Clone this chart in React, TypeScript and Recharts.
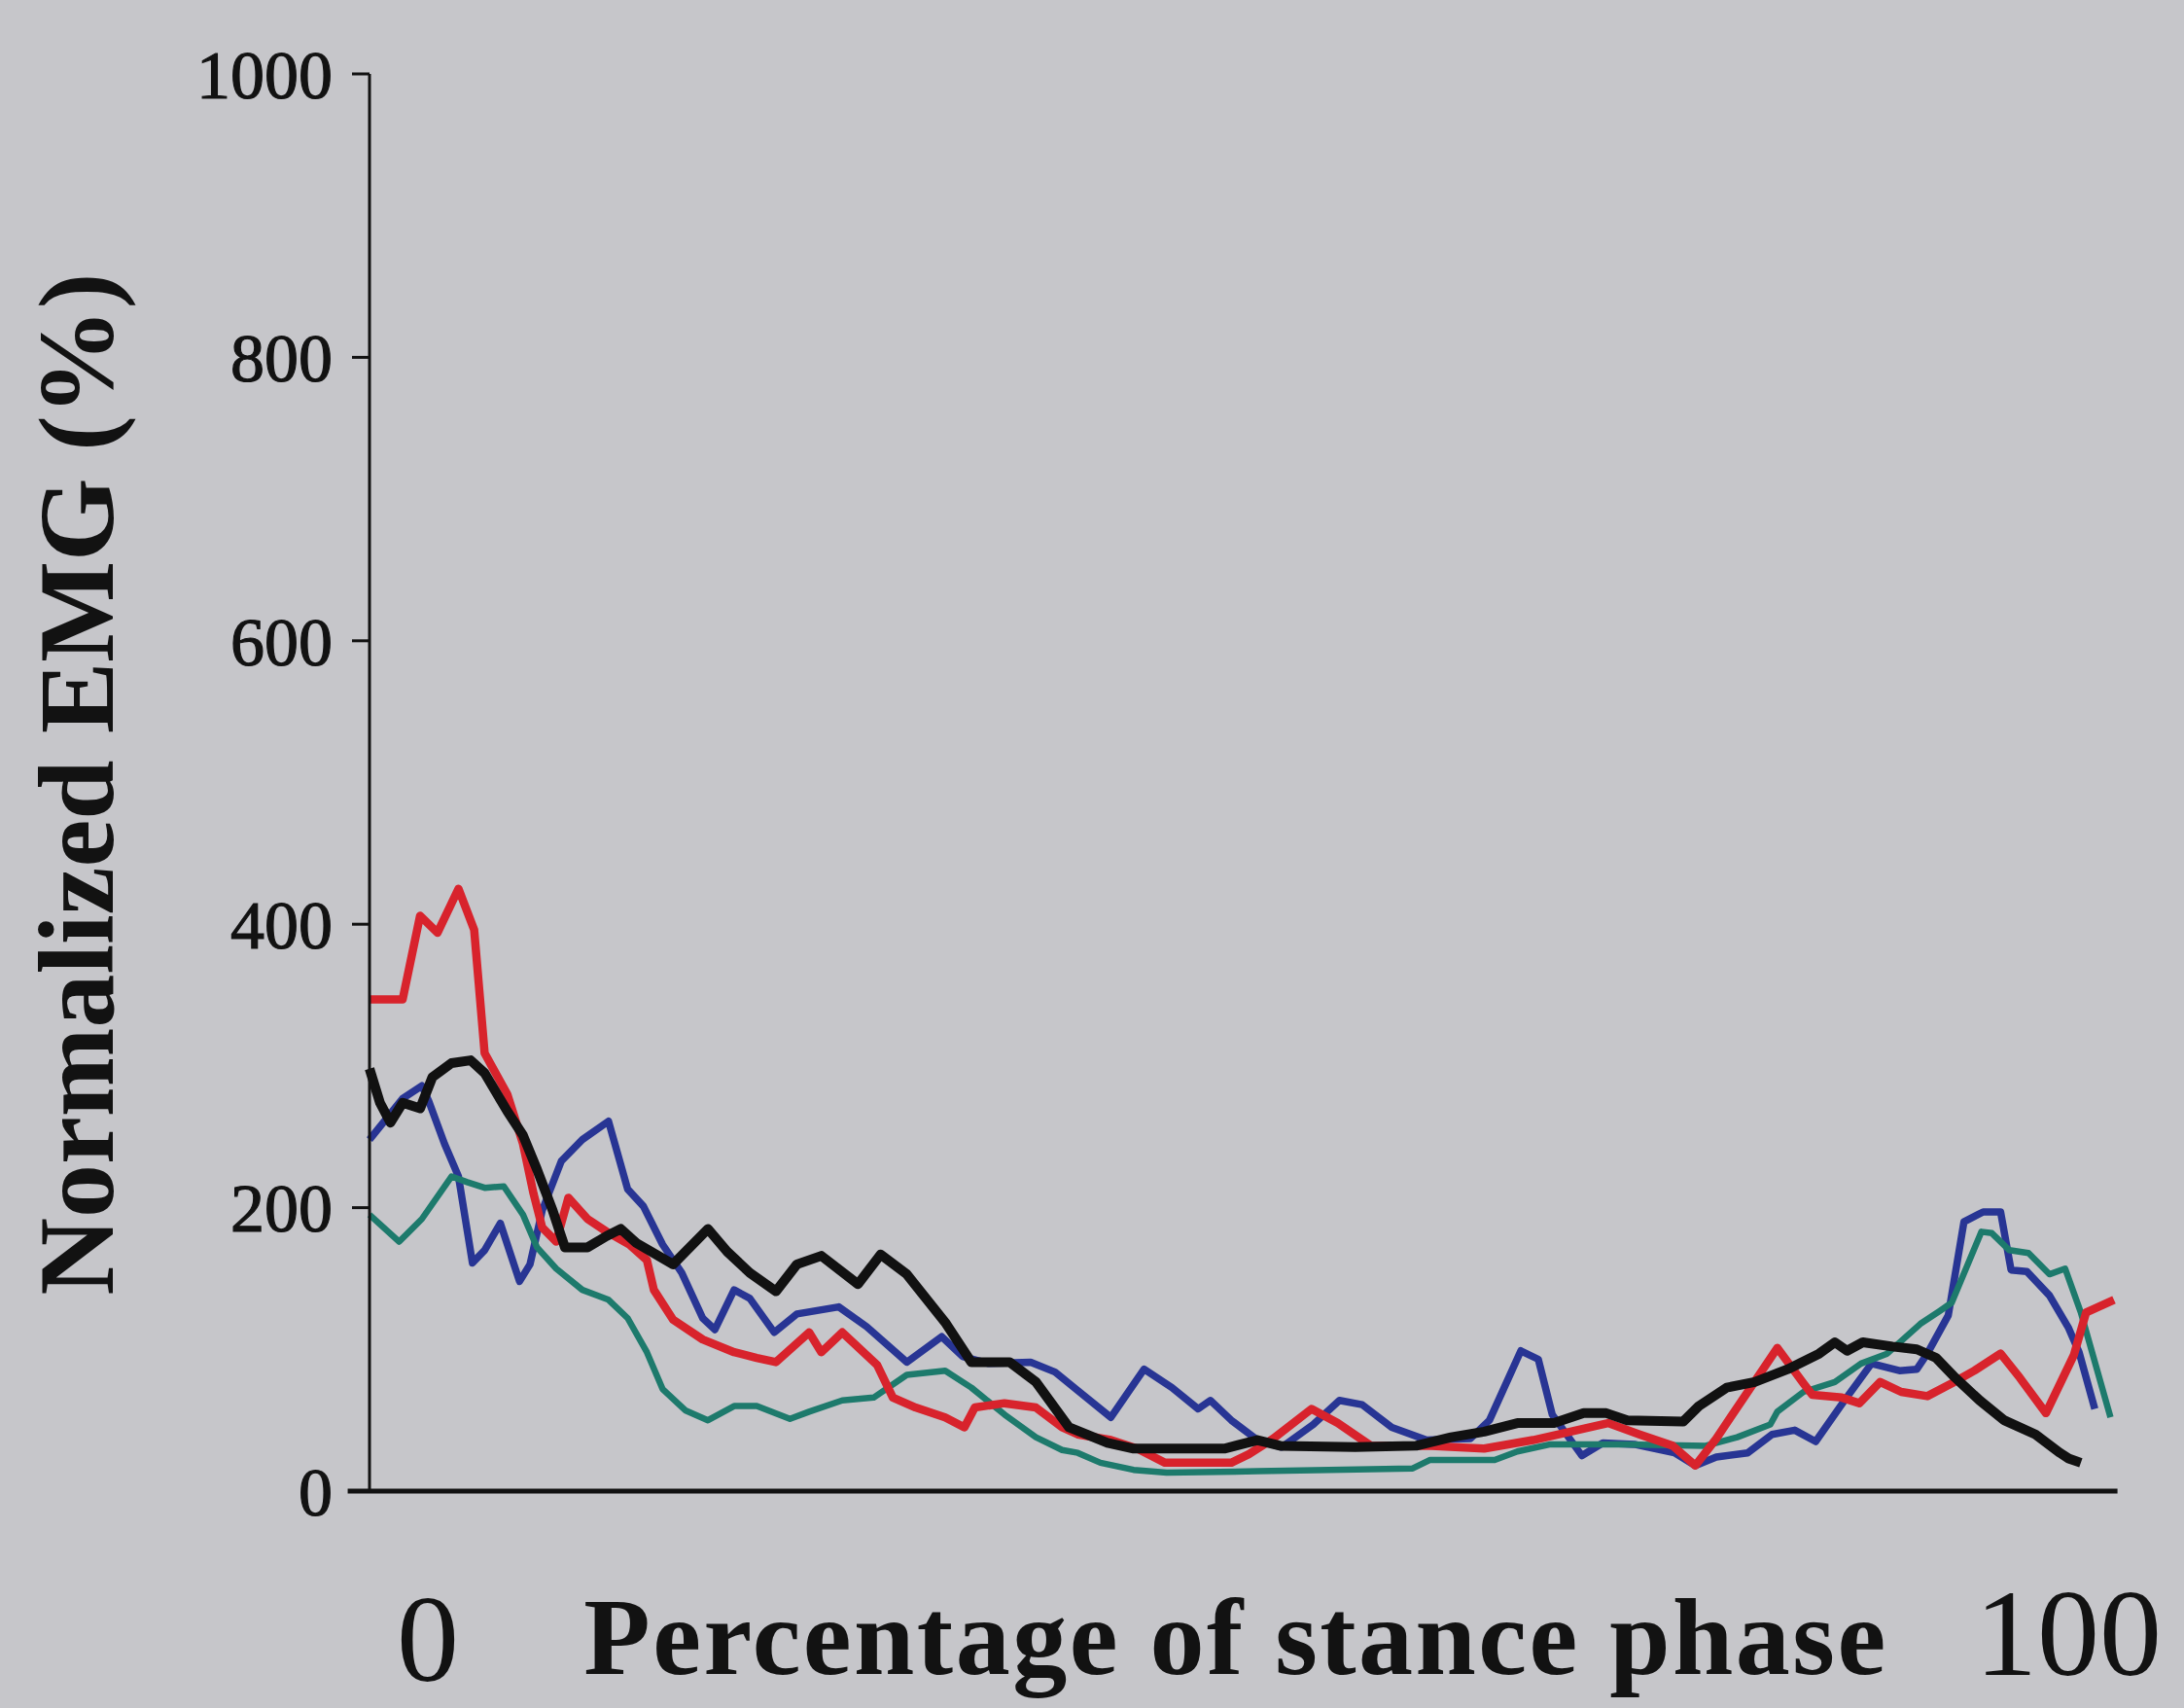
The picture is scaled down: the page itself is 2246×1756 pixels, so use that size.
import React from 'react';
import { LineChart, Line, XAxis, YAxis, ReferenceLine } from 'recharts';

const yTicks = [0, 200, 400, 600, 800, 1000];
const xStartLabel = '0';
const xEndLabel = '100';
const xTitle = 'Percentage of stance phase';
const yTitle = 'Normalized EMG (%)';

const redX = [0, 1.9, 2.9, 3.9, 5.1, 6.0, 6.6, 7.0, 7.9, 8.8, 9.4, 9.9, 10.7, 11.4, 12.5, 13.6, 14.9, 15.9, 16.3, 17.4, 19.1, 20.9, 22.2, 23.3, 25.2, 25.9, 27.1, 29.1, 30.0, 31.3, 33.0, 34.1, 34.7, 36.4, 38.2, 39.7, 40.6, 42.5, 44.0, 45.6, 49.4, 50.4, 51.8, 54.0, 55.5, 57.4, 60.6, 63.9, 66.7, 71.0, 72.8, 74.7, 76.0, 77.2, 79.0, 80.7, 82.2, 82.7, 84.4, 85.4, 86.6, 87.8, 89.3, 90.7, 92.0, 93.5, 94.6, 96.1, 97.7, 98.4, 100];
const redY = [347, 347, 406, 394, 425, 396, 309, 300, 280, 245, 210, 186, 176, 207, 192, 183, 174, 163, 142, 121, 107, 98, 94, 91, 112, 98, 112, 89, 66, 59, 52, 45, 59, 62, 59, 45, 40, 36, 30, 20, 20, 26, 37, 58, 48, 32, 32, 30, 36, 48, 40, 32, 18, 37, 70, 101, 76, 68, 66, 62, 77, 70, 67, 76, 85, 97, 80, 55, 96, 126, 135];

const blueX = [0, 1.9, 3.0, 3.4, 4.3, 5.1, 5.9, 6.6, 7.5, 8.6, 9.2, 9.9, 11.0, 12.2, 13.7, 14.8, 15.7, 16.8, 17.9, 19.1, 19.8, 20.9, 21.8, 23.2, 24.5, 26.9, 28.5, 30.8, 32.8, 34.0, 35.5, 37.9, 39.3, 40.6, 42.5, 44.4, 46.0, 47.5, 48.2, 49.4, 50.9, 52.3, 54.1, 55.6, 56.9, 58.6, 60.6, 63.1, 64.2, 66.0, 67.0, 67.8, 69.5, 70.7, 72.5, 74.8, 76.0, 77.2, 79.0, 80.4, 81.7, 82.9, 84.5, 86.1, 87.7, 88.7, 89.3, 90.5, 91.4, 92.5, 93.5, 94.1, 95.0, 96.3, 97.4, 98.0, 98.9];
const blueY = [248, 277, 286, 275, 245, 222, 161, 170, 189, 148, 160, 198, 233, 248, 261, 213, 201, 174, 154, 122, 114, 142, 136, 112, 125, 130, 116, 91, 109, 95, 90, 91, 84, 71, 52, 86, 73, 58, 64, 50, 36, 31, 47, 64, 61, 45, 36, 37, 50, 99, 93, 54, 25, 34, 33, 27, 18, 24, 27, 40, 43, 35, 63, 90, 85, 86, 97, 124, 190, 197, 197, 156, 155, 138, 115, 98, 58];

const tealX = [0, 1.7, 3.0, 4.7, 5.6, 6.6, 7.7, 8.8, 9.6, 10.7, 12.2, 13.7, 14.8, 15.9, 16.8, 18.1, 19.4, 20.9, 22.2, 24.1, 25.2, 27.1, 28.9, 30.8, 33.0, 34.5, 36.4, 38.2, 39.7, 40.6, 41.9, 43.8, 45.7, 50.9, 55.0, 59.8, 60.8, 64.5, 65.8, 67.7, 72.0, 76.6, 78.4, 80.3, 80.7, 82.2, 84.0, 85.5, 87.0, 88.9, 90.0, 90.7, 92.4, 93.0, 94.0, 95.1, 96.3, 97.2, 98.1, 99.8];
const tealY = [195, 176, 192, 222, 218, 214, 215, 195, 172, 157, 142, 135, 122, 98, 72, 57, 50, 60, 60, 51, 56, 64, 66, 82, 85, 73, 54, 38, 29, 27, 20, 15, 13, 14, 15, 16, 22, 22, 28, 33, 33, 32, 38, 47, 56, 70, 77, 90, 97, 118, 127, 133, 183, 182, 170, 168, 153, 157, 126, 52];

const blackX = [0, 0.6, 1.2, 1.9, 2.9, 3.6, 4.7, 5.8, 6.6, 7.9, 8.8, 9.6, 10.5, 11.2, 12.5, 13.6, 14.4, 15.3, 17.4, 19.4, 20.5, 21.8, 23.3, 24.5, 25.9, 28.0, 29.3, 30.8, 31.7, 33.0, 34.5, 36.7, 38.2, 40.1, 42.3, 43.8, 49.0, 50.9, 52.2, 56.5, 60.0, 62.0, 63.9, 65.8, 67.9, 69.6, 70.9, 72.1, 75.3, 76.2, 77.8, 79.4, 81.3, 83.1, 84.0, 84.7, 85.6, 87.3, 88.7, 89.8, 90.9, 92.3, 93.7, 95.5, 96.9, 97.4, 98.1];
const blackY = [298, 274, 260, 274, 270, 292, 302, 304, 295, 268, 251, 227, 198, 172, 172, 180, 185, 175, 160, 185, 169, 154, 141, 160, 166, 146, 167, 153, 139, 119, 91, 91, 77, 45, 34, 30, 30, 36, 32, 31, 32, 38, 42, 48, 48, 55, 55, 50, 49, 60, 73, 77, 86, 97, 105, 99, 105, 102, 100, 94, 80, 64, 50, 40, 27, 23, 20];

const toPoints = (xs: number[], ys: number[]) => xs.map((x, i) => ({ x, y: ys[i] }));

const redData = toPoints(redX, redY);
const blueData = toPoints(blueX, blueY);
const tealData = toPoints(tealX, tealY);
const blackData = toPoints(blackX, blackY);

const SERIF = '"Liberation Serif", "Times New Roman", "DejaVu Serif", serif';
const BG = '#c6c6ca';
const INK = '#121212';

const BottomLabels = () => (
  <g>
    <text x={440} y={1728} textAnchor="middle" fontFamily={SERIF} fontSize={128} fill={INK}>
      {xStartLabel}
    </text>
    <text x={1271} y={1721} textAnchor="middle" fontFamily={SERIF} fontSize={112} fontWeight="bold" letterSpacing={2.5} fill={INK}>
      {xTitle}
    </text>
    <text x={2127} y={1722} textAnchor="middle" fontFamily={SERIF} fontSize={128} fill={INK}>
      {xEndLabel}
    </text>
  </g>
);

const LeftLabel = () => (
  <text
    x={116}
    y={806}
    transform="rotate(-90, 116, 806)"
    textAnchor="middle"
    fontFamily={SERIF}
    fontSize={110}
    fontWeight="bold"
    fill={INK}
  >
    {yTitle}
  </text>
);

export default function App() {
  return (
    <div style={{ position: 'absolute', left: 0, top: 0, width: 2246, height: 1756, background: BG }}>
      <LineChart width={2246} height={1756} margin={{ top: 76, right: 72, bottom: 0, left: 0 }}>
        <XAxis
          dataKey="x"
          type="number"
          domain={[0, 100]}
          height={223}
          axisLine={false}
          tick={false}
          tickLine={false}
          label={{ content: BottomLabels }}
        />
        <YAxis
          type="number"
          domain={[0, 1000]}
          ticks={yTicks}
          width={380}
          tickSize={18}
          tickMargin={20}
          axisLine={{ stroke: INK, strokeWidth: 3 }}
          tickLine={{ stroke: INK, strokeWidth: 3 }}
          tick={{ fill: INK, stroke: INK, strokeWidth: 1.2, fontSize: 70, fontFamily: SERIF }}
          label={{ content: LeftLabel }}
        />
        <ReferenceLine
          segment={[{ x: -1.25, y: 0 }, { x: 100.2, y: 0 }]}
          stroke={INK}
          strokeWidth={5}
          ifOverflow="visible"
        />
        <Line data={blueData} dataKey="y" type="linear" stroke="#283594" strokeWidth={7.5} dot={false} isAnimationActive={false} strokeLinejoin="round" />
        <Line data={tealData} dataKey="y" type="linear" stroke="#1d7a6c" strokeWidth={6.5} dot={false} isAnimationActive={false} strokeLinejoin="round" />
        <Line data={redData} dataKey="y" type="linear" stroke="#d8232c" strokeWidth={8.5} dot={false} isAnimationActive={false} strokeLinejoin="round" />
        <Line data={blackData} dataKey="y" type="linear" stroke="#111111" strokeWidth={10} dot={false} isAnimationActive={false} strokeLinejoin="round" />
      </LineChart>
    </div>
  );
}
